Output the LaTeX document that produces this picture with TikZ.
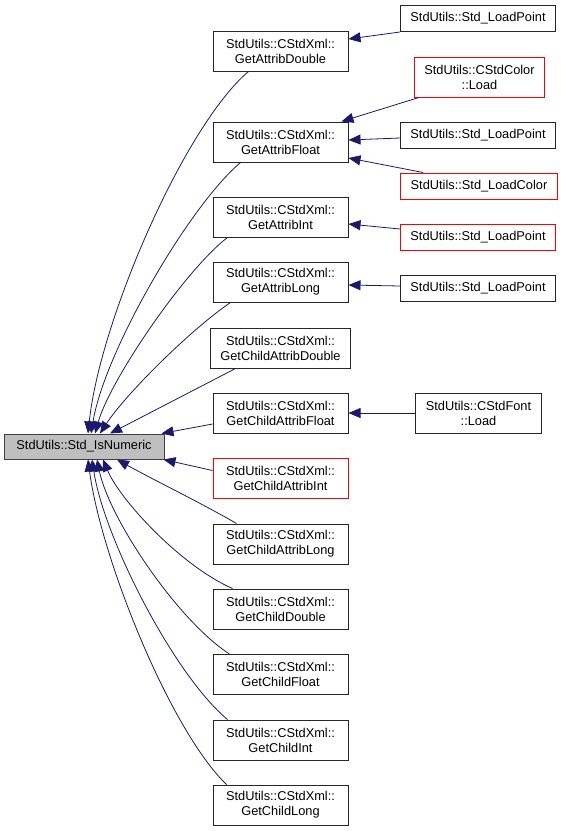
\documentclass[tikz,border=0pt]{standalone}
\usepackage{fontspec}
\setmainfont{Liberation Sans}
\usetikzlibrary{arrows.meta}
\definecolor{callblue}{HTML}{191970}
\definecolor{rootgray}{HTML}{BFBFBF}
\definecolor{missred}{HTML}{FF0000}

\begin{document}
\begin{tikzpicture}[x=1pt, y=-1pt, font=\fontsize{12.8}{15}\selectfont,
  fn/.style={draw=black!85, line width=1pt, align=center, inner xsep=10pt, inner ysep=0pt, minimum height=40pt},
  fnred/.style={fn, draw=missred},
  leaf/.style={fn, minimum height=26pt},
  leafred/.style={leaf, draw=missred},
  call/.style={draw=callblue, line width=0.8pt, -{Triangle[length=12pt,width=10pt]}}] % {{{
\useasboundingbox (0,0) rectangle (563,831);
\begin{scope} % Std_IsNumeric {{{
\node[fn, fill=rootgray, draw=black!75, minimum height=25pt, minimum width=160pt] (numeric) at (84,446.5) {StdUtils::Std\_IsNumeric};
\end{scope} % }}}
\begin{scope} % CStdXml getters {{{
    \foreach \nm/\fun/\yy/\sty in {attribdouble/GetAttribDouble/51/fn, attribfloat/GetAttribFloat/142/fn,
        attribint/GetAttribInt/217/fn, attriblong/GetAttribLong/282/fn,
        childattribdouble/GetChildAttribDouble/348/fn, childattribfloat/GetChildAttribFloat/413/fn,
        childattribint/GetChildAttribInt/478.5/fnred, childattriblong/GetChildAttribLong/544/fn,
        childdouble/GetChildDouble/609/fn, childfloat/GetChildFloat/674.5/fn,
        childint/GetChildInt/740/fn, childlong/GetChildLong/805/fn} {
      \node[\sty, minimum width=135pt] (\nm) at (280.5,\yy) {StdUtils::CStdXml::\\\fun};
    }
\end{scope} % }}}
\begin{scope} % Loaders {{{
\node[leaf] (loadpointa) at (478,18.5) {StdUtils::Std\_LoadPoint};
\node[fnred] (colorload) at (479.5,77) {StdUtils::CStdColor\\::Load};
\node[leaf] (loadpointb) at (478,135) {StdUtils::Std\_LoadPoint};
\node[leafred] (loadcolor) at (479,186) {StdUtils::Std\_LoadColor};
\node[leafred] (loadpointc) at (478,237) {StdUtils::Std\_LoadPoint};
\node[leaf] (loadpointd) at (478,288) {StdUtils::Std\_LoadPoint};
\node[fn] (fontload) at (478.5,413) {StdUtils::CStdFont\\::Load};
\end{scope} % }}}
% loaders -> getters
\draw[call] (loadpointa.south west) -- ([yshift=12pt]attribdouble.east);
\draw[call] ([xshift=5pt]colorload.south west) -- ([xshift=-7pt]attribfloat.north east);
\draw[call] ([yshift=-3pt]loadpointb.west) -- ([yshift=2pt]attribfloat.east);
\draw[call] ([xshift=23pt]loadcolor.north west) -- ([yshift=-16pt]attribfloat.east);
\draw[call] ([yshift=8pt]loadpointc.west) -- ([yshift=-7pt]attribint.east);
\draw[call] ([yshift=2pt]loadpointd.west) -- ([yshift=-3pt]attriblong.east);
\draw[call] (fontload) -- (childattribfloat);
% getters -> Std_IsNumeric
\draw[call] ([xshift=-32pt]attribdouble.south) .. controls (185,125) and (100,320) .. ([xshift=4pt]numeric.north);
\draw[call] ([xshift=-40pt]attribfloat.south) .. controls (190,205) and (105,350) .. ([xshift=7pt]numeric.north);
\draw[call] ([xshift=-53pt]attribint.south) .. controls (185,270) and (110,380) .. ([xshift=11pt]numeric.north);
\draw[call] ([xshift=-50pt]attriblong.south) .. controls (190,330) and (125,395) .. ([xshift=16pt]numeric.north);
\draw[call] ([xshift=-45pt]childattribdouble.south) -- ([xshift=26pt]numeric.north);
\draw[call] ([yshift=-11pt]childattribfloat.west) -- ([xshift=-3pt]numeric.north east);
\draw[call] ([yshift=8pt]childattribint.west) -- ([xshift=-1pt]numeric.south east);
\draw[call] ([xshift=-44pt]childattriblong.north) .. controls (205,505) and (150,478) .. ([xshift=33pt]numeric.south);
\draw[call] ([xshift=20pt]childdouble.north west) .. controls (181,566) and (120,500) .. ([xshift=19pt]numeric.south);
\draw[call] ([xshift=17pt]childfloat.north west) .. controls (177,620) and (109,518) .. ([xshift=13pt]numeric.south);
\draw[call] ([xshift=15pt]childint.north west) .. controls (174,675) and (104,538) .. ([xshift=8pt]numeric.south);
\draw[call] ([xshift=14pt]childlong.north west) .. controls (170,730) and (101,558) .. ([xshift=4pt]numeric.south);
\end{tikzpicture} % }}}
\end{document}
